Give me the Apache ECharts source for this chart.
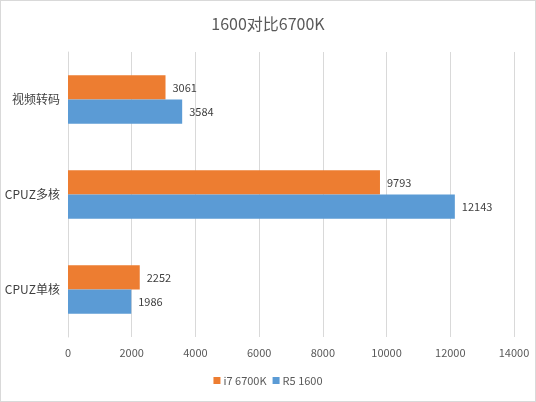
<!DOCTYPE html>
<html><head><meta charset="utf-8">
<script src="https://cdn.jsdelivr.net/npm/echarts@6/dist/echarts.min.js"></script>
<style>html,body{margin:0;padding:0;background:#fff}#c{width:536px;height:402px;box-sizing:border-box;border:1px solid #d9d9d9}</style>
</head><body><div id="c"></div>
<script>
var categories = ['CPUZ单核', 'CPUZ多核', '视频转码'];
var i7Values = [2252, 9793, 3061];
var r5Values = [1986, 12143, 3584];
var xTicks = [0, 2000, 4000, 6000, 8000, 10000, 12000, 14000];

var chart = echarts.init(document.getElementById('c'));
var font = '"Microsoft YaHei","Noto Sans CJK SC","Noto Sans",sans-serif';
chart.setOption({
  animation: false,
  textStyle: {fontFamily: font},
  title: {text: '1600对比6700K', left: 'center', top: 10,
    textStyle: {fontSize: 16, fontWeight: 'normal', color: '#595959', fontFamily: font}},
  legend: {data: ['i7 6700K', 'R5 1600'], bottom: 10, itemWidth: 7, itemHeight: 7, itemGap: 6,
    icon: 'rect', textStyle: {fontSize: 11, color: '#595959', padding: [0,0,0,-2]}},
  grid: {left: 67, right: 21, top: 51, bottom: 64, containLabel: false},
  xAxis: {type: 'value', min: xTicks[0], max: xTicks[xTicks.length-1], interval: 2000,
    axisLine: {show: false}, axisTick: {show: false},
    axisLabel: {color: '#595959', fontSize: 11, margin: 10, formatter: function(v){return String(v);}},
    splitLine: {lineStyle: {color: '#d9d9d9'}}},
  yAxis: {type: 'category', data: categories,
    axisLine: {show: true, lineStyle: {color: '#d9d9d9'}}, axisTick: {show: false},
    axisLabel: {color: '#404040', fontSize: 12, margin: 8}},
  series: [
    {name: 'i7 6700K', type: 'bar', data: i7Values, barGap: '0%', barCategoryGap: '49%',
      itemStyle: {color: '#ED7D31'},
      label: {show: true, position: 'right', distance: 7, color: '#404040', fontSize: 11}},
    {name: 'R5 1600', type: 'bar', data: r5Values, barGap: '0%', barCategoryGap: '49%',
      itemStyle: {color: '#5B9BD5'},
      label: {show: true, position: 'right', distance: 7, color: '#404040', fontSize: 11}}
  ]
});
</script></body></html>
